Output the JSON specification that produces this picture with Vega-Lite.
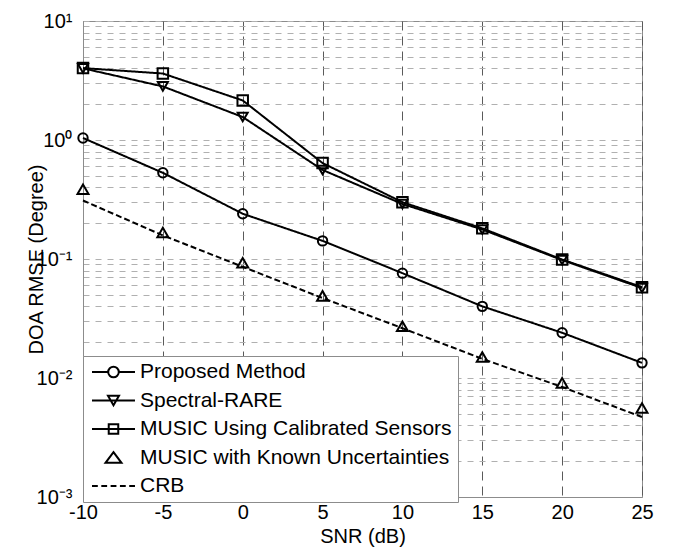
{
  "$schema": "https://vega.github.io/schema/vega-lite/v6.json",
  "width": 559,
  "height": 476,
  "autosize": {"type": "none"},
  "padding": {"left": 83, "top": 21, "right": 32, "bottom": 53},
  "background": "white",
  "config": {
    "font": "Liberation Sans",
    "view": {"stroke": "#8c8c8c", "strokeWidth": 1},
    "axis": {
      "labelFont": "Liberation Sans",
      "titleFont": "Liberation Sans",
      "labelColor": "black",
      "titleColor": "black",
      "titleFontWeight": "normal",
      "domainColor": "#8c8c8c",
      "ticks": false
    }
  },
  "data": {
    "values": [
      {"series": "Proposed Method", "snr": -10, "rmse": 1.04},
      {"series": "Proposed Method", "snr": -5, "rmse": 0.53},
      {"series": "Proposed Method", "snr": 0, "rmse": 0.24},
      {"series": "Proposed Method", "snr": 5, "rmse": 0.142},
      {"series": "Proposed Method", "snr": 10, "rmse": 0.076},
      {"series": "Proposed Method", "snr": 15, "rmse": 0.040},
      {"series": "Proposed Method", "snr": 20, "rmse": 0.024},
      {"series": "Proposed Method", "snr": 25, "rmse": 0.0134},
      {"series": "Spectral-RARE", "snr": -10, "rmse": 4.0},
      {"series": "Spectral-RARE", "snr": -5, "rmse": 2.82},
      {"series": "Spectral-RARE", "snr": 0, "rmse": 1.56},
      {"series": "Spectral-RARE", "snr": 5, "rmse": 0.56},
      {"series": "Spectral-RARE", "snr": 10, "rmse": 0.29},
      {"series": "Spectral-RARE", "snr": 15, "rmse": 0.177},
      {"series": "Spectral-RARE", "snr": 20, "rmse": 0.098},
      {"series": "Spectral-RARE", "snr": 25, "rmse": 0.057},
      {"series": "MUSIC Using Calibrated Sensors", "snr": -10, "rmse": 4.02},
      {"series": "MUSIC Using Calibrated Sensors", "snr": -5, "rmse": 3.62},
      {"series": "MUSIC Using Calibrated Sensors", "snr": 0, "rmse": 2.15},
      {"series": "MUSIC Using Calibrated Sensors", "snr": 5, "rmse": 0.64},
      {"series": "MUSIC Using Calibrated Sensors", "snr": 10, "rmse": 0.30},
      {"series": "MUSIC Using Calibrated Sensors", "snr": 15, "rmse": 0.181},
      {"series": "MUSIC Using Calibrated Sensors", "snr": 20, "rmse": 0.099},
      {"series": "MUSIC Using Calibrated Sensors", "snr": 25, "rmse": 0.058},
      {"series": "MUSIC with Known Uncertainties", "snr": -10, "rmse": 0.385},
      {"series": "MUSIC with Known Uncertainties", "snr": -5, "rmse": 0.167},
      {"series": "MUSIC with Known Uncertainties", "snr": 0, "rmse": 0.093},
      {"series": "MUSIC with Known Uncertainties", "snr": 5, "rmse": 0.049},
      {"series": "MUSIC with Known Uncertainties", "snr": 10, "rmse": 0.0272},
      {"series": "MUSIC with Known Uncertainties", "snr": 15, "rmse": 0.0150},
      {"series": "MUSIC with Known Uncertainties", "snr": 20, "rmse": 0.0091},
      {"series": "MUSIC with Known Uncertainties", "snr": 25, "rmse": 0.0056},
      {"series": "CRB", "snr": -10, "rmse": 0.31},
      {"series": "CRB", "snr": -5, "rmse": 0.158},
      {"series": "CRB", "snr": 0, "rmse": 0.086},
      {"series": "CRB", "snr": 5, "rmse": 0.047},
      {"series": "CRB", "snr": 10, "rmse": 0.0262},
      {"series": "CRB", "snr": 15, "rmse": 0.0145},
      {"series": "CRB", "snr": 20, "rmse": 0.0084},
      {"series": "CRB", "snr": 25, "rmse": 0.0047}
    ]
  },
  "encoding": {
    "x": {
      "field": "snr",
      "type": "quantitative",
      "scale": {"domain": [-10, 25], "nice": false, "zero": false},
      "axis": {
        "title": "SNR (dB)",
        "values": [-10, -5, 0, 5, 10, 15, 20, 25],
        "labelExpr": "'' + datum.value",
        "labelFontSize": 20,
        "labelPadding": 5,
        "labelFlush": false,
        "labelOverlap": false,
        "grid": true,
        "gridColor": "#5a5a5a",
        "gridDash": [9, 6],
        "titleFontSize": 20,
        "titleY": 45,
        "titleBaseline": "alphabetic"
      }
    },
    "y": {
      "field": "rmse",
      "type": "quantitative",
      "scale": {"type": "log", "domain": [0.001, 10], "nice": false},
      "axis": {
        "title": "DOA RMSE (Degree)",
        "values": [0.001, 0.002, 0.003, 0.004, 0.005, 0.006, 0.007, 0.008, 0.009, 0.01, 0.02, 0.03, 0.04, 0.05, 0.06, 0.07, 0.08, 0.09, 0.1, 0.2, 0.3, 0.4, 0.5, 0.6, 0.7, 0.8, 0.9, 1, 2, 3, 4, 5, 6, 7, 8, 9, 10],
        "labelExpr": "datum.value == 10 ? '10¹' : datum.value == 1 ? '10⁰' : datum.value == 0.1 ? '10⁻¹' : datum.value == 0.01 ? '10⁻²' : datum.value == 0.001 ? '10⁻³' : ''",
        "labelFontSize": 20,
        "labelPadding": 11,
        "labelOverlap": false,
        "labelFlush": false,
        "grid": true,
        "gridColor": "#b0b0b0",
        "gridDash": [6, 6],
        "titleFontSize": 20,
        "titleX": -47,
        "titleY": 238,
        "titleAngle": -90,
        "titleAlign": "center",
        "titleBaseline": "middle"
      }
    }
  },
  "layer": [
    {
      "transform": [{"filter": "datum.series != 'MUSIC with Known Uncertainties'"}],
      "mark": {"type": "line", "color": "black", "strokeWidth": 2},
      "encoding": {
        "strokeDash": {
          "field": "series",
          "type": "nominal",
          "scale": {
            "domain": ["Proposed Method", "Spectral-RARE", "MUSIC Using Calibrated Sensors", "CRB"],
            "range": [[1, 0], [1, 0], [1, 0], [6, 3]]
          },
          "legend": null
        }
      }
    },
    {
      "transform": [{"filter": "datum.series != 'CRB'"}],
      "mark": {"type": "point", "filled": false, "color": "black", "strokeWidth": 2, "opacity": 1},
      "encoding": {
        "shape": {
          "field": "series",
          "type": "nominal",
          "scale": {
            "domain": ["Proposed Method", "Spectral-RARE", "MUSIC Using Calibrated Sensors", "MUSIC with Known Uncertainties"],
            "range": ["circle", "triangle-down", "square", "triangle-up"]
          },
          "legend": null
        },
        "size": {
          "field": "series",
          "type": "nominal",
          "scale": {
            "domain": ["Proposed Method", "Spectral-RARE", "MUSIC Using Calibrated Sensors", "MUSIC with Known Uncertainties"],
            "range": [88, 121, 90, 200]
          },
          "legend": null
        }
      }
    },
    {
      "mark": {"type": "point", "filled": false, "color": "black", "opacity": 0},
      "encoding": {
        "shape": {
          "field": "series",
          "type": "nominal",
          "scale": {
            "domain": ["Proposed Method", "Spectral-RARE", "MUSIC Using Calibrated Sensors", "MUSIC with Known Uncertainties", "CRB"],
            "range": [
              "M-1,0H1.313M2.827,0H5.14M1.313,0A0.757,0.757,0,1,1,2.827,0A0.757,0.757,0,1,1,1.313,0",
              "M-1,0H5.14M1.284,-0.68H2.856L2.07,0.68Z",
              "M-1,0H5.14M1.39,-0.68H2.75V0.68H1.39Z",
              "M2.07,-0.76L3.21,0.76L0.93,0.76Z",
              "M-1,0H-0.17M0.33,0H1.16M1.66,0H2.49M2.99,0H3.82M4.32,0H5.14"
            ]
          },
          "legend": {
            "orient": "none",
            "legendX": 0,
            "legendY": 335,
            "title": null,
            "padding": 5.5,
            "strokeColor": "#8c8c8c",
            "fillColor": "white",
            "cornerRadius": 0,
            "labelFont": "Liberation Sans",
            "labelFontSize": 21,
            "labelColor": "black",
            "labelLimit": 500,
            "labelOffset": 30.5,
            "rowPadding": 6.5,
            "symbolSize": 196,
            "symbolStrokeWidth": 2,
            "symbolStrokeColor": "black",
            "symbolFillColor": "transparent",
            "symbolOpacity": 1,
            "encode": {
              "symbols": {
                "update": {
                  "opacity": {"value": 1},
                  "fill": {"value": "transparent"},
                  "stroke": {"value": "black"},
                  "strokeWidth": {"value": 2}
                }
              }
            }
          }
        }
      }
    }
  ],
  "resolve": {"scale": {"shape": "independent", "size": "independent"}}
}
